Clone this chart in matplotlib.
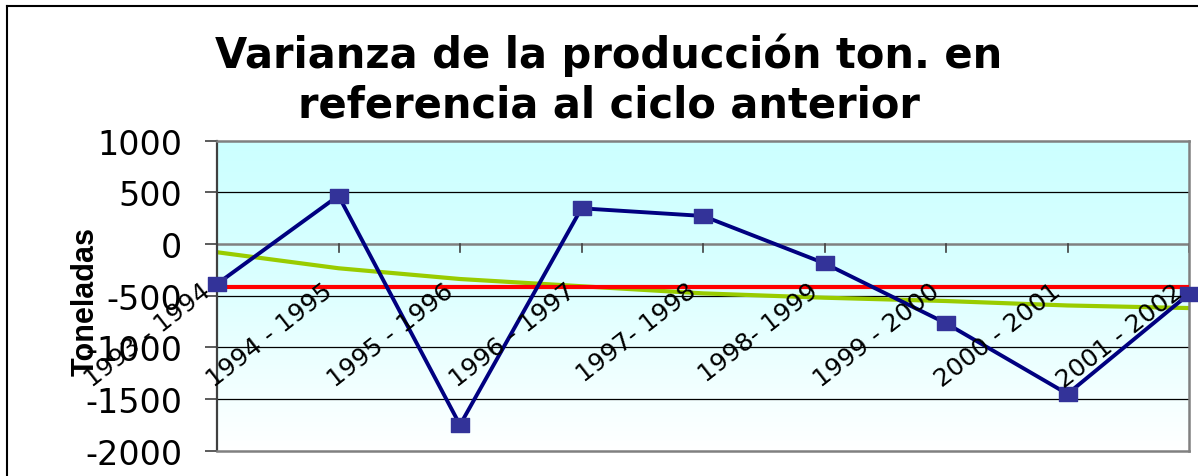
#!/usr/bin/env python3
"""
Varianza de la producción (ton.) respecto al ciclo anterior
"""

import numpy as np
import matplotlib
matplotlib.use('Agg')
import matplotlib.pyplot as plt
from matplotlib.lines import Line2D
from matplotlib.path import Path

# Datos
ciclos = ['1993 - 1994', '1994 - 1995', '1995 - 1996', '1996 - 1997', '1997- 1998',
          '1998- 1999', '1999 - 2000', '2000 - 2001', '2001 - 2002']
varianza = [-387, 467, -1751, 345, 271, -187, -767, -1451, -484]
promedio = [-419, -419, -419, -419, -419, -419, -419, -419, -419]
tendencia = [-80, -235, -339, -409, -478, -520, -552, -595, -620]
yticks = [-2000, -1500, -1000, -500, 0, 500, 1000]

plt.rcParams['font.family'] = ['DejaVu Sans']

W, H = 1198, 477
fig = plt.figure(figsize=(W / 100, H / 100), dpi=100)
fig.patch.set_facecolor('white')

# area del grafico en pixeles: x 217-1189, y 141.6-451.7
ax = fig.add_axes([217 / W, 1 - 451.7 / H, 972 / W, 310.1 / H])
x = np.arange(len(ciclos))
ax.set_xlim(0, len(ciclos) - 1)
ax.set_ylim(-2000, 1000)

# fondo degradado cian -> blanco
grad = np.linspace(1, 0, 256).reshape(-1, 1)
cmap = matplotlib.colors.LinearSegmentedColormap.from_list(
    'fondo', [(0, '#FFFFFF'), (0.6, '#D8FFFF'), (1, '#CCFFFF')])
ax.imshow(grad, cmap=cmap, aspect='auto', extent=[0, len(ciclos) - 1, -2000, 1000],
          vmin=0, vmax=1, zorder=0)

# lineas de division
for v in yticks[1:-1]:
    if v == 0:
        continue
    ax.axhline(v, color='black', lw=0.9, zorder=1)
ax.axhline(0, color='#808080', lw=1.8, zorder=1)

# marcas del eje de categorias sobre y=0
for xi in x[1:]:
    ax.plot([xi, xi], [0, -80], color='#404040', lw=1.2, zorder=1, clip_on=False)

# marcador cuadrado algo mas ancho que alto, como en el original
cuadro = Path([(-1.2, -1), (1.2, -1), (1.2, 1), (-1.2, 1), (-1.2, -1)],
              [Path.MOVETO, Path.LINETO, Path.LINETO, Path.LINETO, Path.CLOSEPOLY])

ax.plot(x, varianza, color='#000080', lw=2.8, marker=cuadro, markersize=12.5,
        markerfacecolor='#333399', markeredgecolor='#333399', zorder=4, clip_on=False)
ax.plot(x, promedio, color='#FF0000', lw=3.0, zorder=3)
ax.plot(x, tendencia, color='#99CC00', lw=3.0, zorder=2)

for s in ['top', 'right', 'bottom']:
    ax.spines[s].set_color('#808080')
    ax.spines[s].set_linewidth(1.8)
ax.spines['left'].set_color('#404040')
ax.spines['left'].set_linewidth(1.6)

ax.set_xticks([])
ax.set_yticks(yticks)
ax.set_yticklabels([str(v) for v in yticks], fontsize=24)
ax.tick_params(axis='y', direction='out', length=9, width=1.2, color='#404040', pad=16)

# etiquetas de categoria giradas
for xi, lab in zip(x, ciclos):
    ax.annotate(lab, xy=(xi, 0), xytext=(-12, -25), textcoords='offset points',
                rotation=38, rotation_mode='anchor', ha='right', va='top',
                fontsize=18, zorder=5, annotation_clip=False)

fig.text(86 / W, 1 - 302 / H, 'Toneladas', rotation=90, ha='center', va='center',
         fontsize=22, fontweight='bold', family='Liberation Sans')

fig.text(609 / W, 1 - 80 / H, 'Varianza de la producción ton. en\nreferencia al ciclo anterior',
         ha='center', va='center', fontsize=30, fontweight='bold', linespacing=1.22)

# borde del area del grafico (arriba e izquierda)
fig.add_artist(Line2D([7 / W, 1], [1 - 7 / H, 1 - 7 / H], color='black', lw=1.5))
fig.add_artist(Line2D([7 / W, 7 / W], [0, 1 - 7 / H], color='black', lw=1.5))

fig.savefig('out.png', dpi=100, facecolor='white')
plt.close(fig)
